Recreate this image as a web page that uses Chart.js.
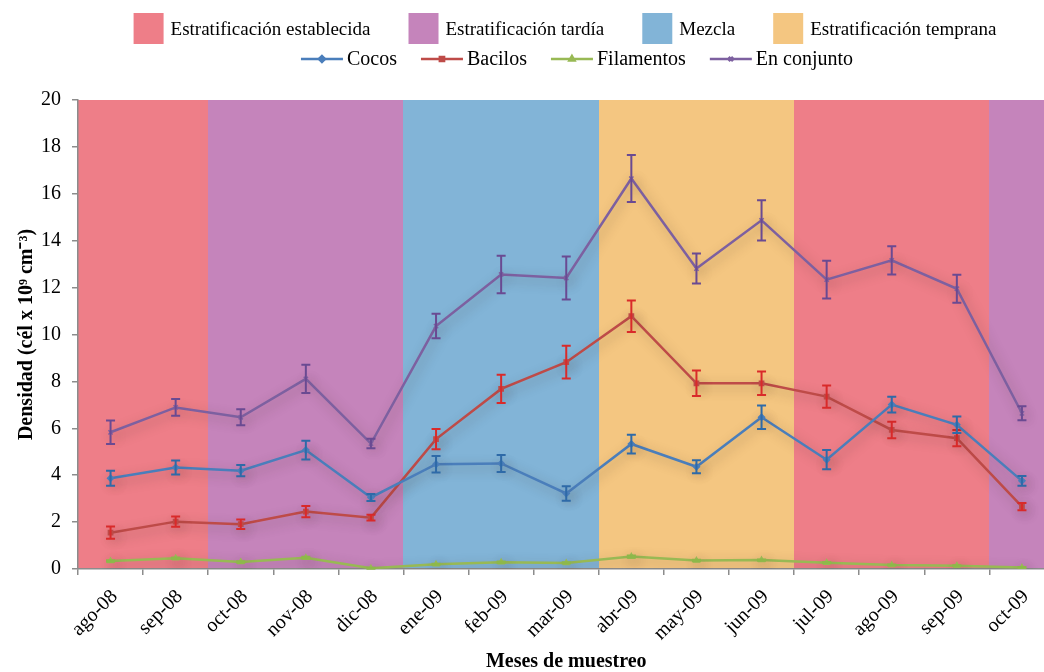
<!DOCTYPE html>
<html><head><meta charset="utf-8">
<script src="https://cdn.jsdelivr.net/npm/chart.js@4.4.0/dist/chart.umd.min.js"></script>
<style>
html,body{margin:0;padding:0;overflow:hidden;background:#fff;width:1044px;height:672px}
#wrap{position:relative;width:1060px;height:672px}
</style></head>
<body><div id="wrap"><canvas id="c" width="1060" height="672"></canvas></div>
<script>
const months = ['ago-08','sep-08','oct-08','nov-08','dic-08','ene-09','feb-09','mar-09','abr-09','may-09','jun-09','jul-09','ago-09','sep-09','oct-09'];
const phaseNames = ['Estratificación establecida','Estratificación tardía','Mezcla','Estratificación temprana'];
const phaseColors = ['#ee7e88','#c584bb','#82b4d7','#f4c681'];
const monthPhase = [0,0,1,1,1,2,2,2,3,3,3,0,0,0,1];

const cocos      = [3.87,4.33,4.19,5.07,3.05,4.47,4.50,3.22,5.33,4.36,6.47,4.66,7.01,6.15,3.76];
const cocosErr   = [0.32,0.30,0.24,0.40,0.15,0.35,0.36,0.31,0.40,0.28,0.50,0.41,0.34,0.35,0.21];
const bacilos    = [1.55,2.02,1.91,2.45,2.19,5.54,7.68,8.82,10.78,7.92,7.92,7.35,5.93,5.58,2.66];
const bacilosErr = [0.26,0.22,0.20,0.24,0.12,0.43,0.60,0.70,0.67,0.54,0.50,0.47,0.35,0.35,0.15];
const filamentos    = [0.34,0.46,0.30,0.48,0.03,0.20,0.29,0.26,0.53,0.36,0.38,0.27,0.17,0.14,0.06];
const filamentosErr = [0.03,0.03,0.03,0.04,0.02,0.02,0.03,0.03,0.05,0.03,0.03,0.03,0.02,0.02,0.02];
const conjunto    = [5.83,6.89,6.47,8.11,5.35,10.36,12.56,12.41,16.65,12.81,14.87,12.34,13.16,11.95,6.64];
const conjuntoErr = [0.50,0.36,0.34,0.60,0.20,0.52,0.80,0.92,1.00,0.64,0.86,0.80,0.60,0.60,0.30];

const seriesNames  = ['Cocos','Bacilos','Filamentos','En conjunto'];
const seriesColors = ['#4a7ebb','#be4b48','#98b954','#7d60a0'];
const errColors    = ['#2e6aa8','#d92a2a','#8db84a','#6a4a92'];
const seriesStyles = ['rectRot','rect','triangle','crossRot'];
const yMin = 0, yMax = 20, yStep = 2;

const FONT = "'Liberation Serif','Times New Roman',serif";

const bandPlugin = {
  id: 'bands',
  beforeDraw(chart) {
    const {ctx, chartArea: a, scales: {x}} = chart;
    const slot = x.getPixelForValue(1) - x.getPixelForValue(0);
    ctx.save();
    ctx.beginPath(); ctx.rect(a.left, a.top, a.right - a.left, a.bottom - a.top); ctx.clip();
    monthPhase.forEach((p, i) => {
      const cx = x.getPixelForValue(i);
      ctx.fillStyle = phaseColors[p];
      ctx.fillRect(Math.round(cx - slot / 2), a.top, Math.ceil(slot) + 1, a.bottom - a.top);
    });
    ctx.restore();
  }
};

const errs = [cocosErr, bacilosErr, filamentosErr, conjuntoErr];
const shadowPlugin = {
  id: 'shadowErr',
  beforeDatasetDraw(chart, args) {
    const ctx = chart.ctx;
    ctx.save();
    ctx.shadowColor = 'rgba(60,40,30,0.35)';
    ctx.shadowBlur = 12;
    ctx.shadowOffsetX = 3;
    ctx.shadowOffsetY = 4;
  },
  afterDatasetDraw(chart, args) {
    const ctx = chart.ctx;
    ctx.restore();
    const i = args.index;
    const ds = chart.data.datasets[i];
    const {x, y} = chart.scales;
    ctx.save();
    ctx.strokeStyle = errColors[i];
    ctx.lineWidth = 2;
    ds.data.forEach((v, j) => {
      const e = errs[i][j];
      const px = x.getPixelForValue(j);
      const y1 = y.getPixelForValue(v + e), y2 = y.getPixelForValue(Math.max(0, v - e));
      ctx.beginPath();
      ctx.moveTo(px, y1); ctx.lineTo(px, y2);
      ctx.moveTo(px - 4.5, y1); ctx.lineTo(px + 4.5, y1);
      ctx.moveTo(px - 4.5, y2); ctx.lineTo(px + 4.5, y2);
      ctx.stroke();
    });
    ctx.restore();
  }
};

const legendPlugin = {
  id: 'customLegend',
  afterDraw(chart) {
    const {ctx} = chart;
    ctx.save();
    ctx.textBaseline = 'middle';
    ctx.fillStyle = '#000';
    // row 1: phase bands
    ctx.font = "19px " + FONT;
    const rw = 30, rh = 31, g1 = 7, gap = 38;
    const w1 = phaseNames.map(n => ctx.measureText(n).width);
    let total = w1.reduce((s, w) => s + rw + g1 + w, 0) + gap * (phaseNames.length - 1);
    let xx = 565 - total / 2;
    phaseNames.forEach((n, i) => {
      ctx.fillStyle = phaseColors[i];
      ctx.fillRect(xx, 13, rw, rh);
      ctx.fillStyle = '#000';
      ctx.fillText(n, xx + rw + g1, 30);
      xx += rw + g1 + w1[i] + gap;
    });
    // row 2: series
    ctx.font = "20px " + FONT;
    const lw = 42, g2 = 4, gap2 = 24;
    const w2 = seriesNames.map(n => ctx.measureText(n).width);
    total = w2.reduce((s, w) => s + lw + g2 + w, 0) + gap2 * (seriesNames.length - 1);
    xx = 577 - total / 2;
    const yy = 59;
    seriesNames.forEach((n, i) => {
      ctx.strokeStyle = seriesColors[i];
      ctx.lineWidth = 2.5;
      ctx.beginPath(); ctx.moveTo(xx, yy); ctx.lineTo(xx + lw, yy); ctx.stroke();
      ctx.fillStyle = seriesColors[i];
      Chart.helpers.drawPoint(ctx, {pointStyle: seriesStyles[i], radius: 3, borderWidth: 1.5, rotation: 0}, xx + lw / 2, yy);
      ctx.fillStyle = '#000';
      ctx.fillText(n, xx + lw + g2, yy + 1);
      xx += lw + g2 + w2[i] + gap2;
    });
    ctx.restore();
  }
};

const seriesData = [cocos, bacilos, filamentos, conjunto];
const datasets = seriesNames.map((n, i) => ({
  label: n,
  data: seriesData[i],
  borderColor: seriesColors[i],
  backgroundColor: seriesColors[i],
  pointStyle: seriesStyles[i],
  pointRadius: 3,
  pointBorderWidth: 1.5,
  borderWidth: 2.5,
  tension: 0,
  fill: false
}));

new Chart(document.getElementById('c'), {
  type: 'line',
  data: {labels: months, datasets},
  plugins: [bandPlugin, shadowPlugin, legendPlugin],
  options: {
    responsive: false,
    animation: false,
    devicePixelRatio: 1,
    layout: {padding: {top: 100, left: 0, right: 4, bottom: 0}},
    plugins: {legend: {display: false}, tooltip: {enabled: false}},
    scales: {
      x: {
        type: 'category',
        offset: true,
        grid: {offset: true, drawOnChartArea: false, drawTicks: true, tickLength: 6, color: '#8c8c8c', lineWidth: 1.5},
        border: {color: '#8c8c8c', width: 1.5},
        ticks: {maxRotation: 45, minRotation: 45, labelOffset: 4, padding: 10, color: '#000',
                font: {family: FONT, size: 20}},
        title: {display: true, text: 'Meses de muestreo', color: '#000',
                font: {family: FONT, size: 20, weight: 'bold', lineHeight: 1.0}, padding: {top: 0, bottom: 0}},
        afterFit(s) { s.height = 103; }
      },
      y: {
        min: yMin, max: yMax,
        grid: {drawOnChartArea: false, drawTicks: true, tickLength: 6, color: '#8c8c8c', lineWidth: 1.5},
        border: {color: '#8c8c8c', width: 1.5},
        ticks: {stepSize: yStep, padding: 11, color: '#000', font: {family: FONT, size: 20}},
        title: {display: true, text: 'Densidad (cél x 10⁹ cm⁻³)', color: '#000',
                font: {family: FONT, size: 20, weight: 'bold'}, padding: {top: 15, bottom: 0}},
        afterFit(s) { s.width = 78; }
      }
    }
  }
});
</script></body></html>
